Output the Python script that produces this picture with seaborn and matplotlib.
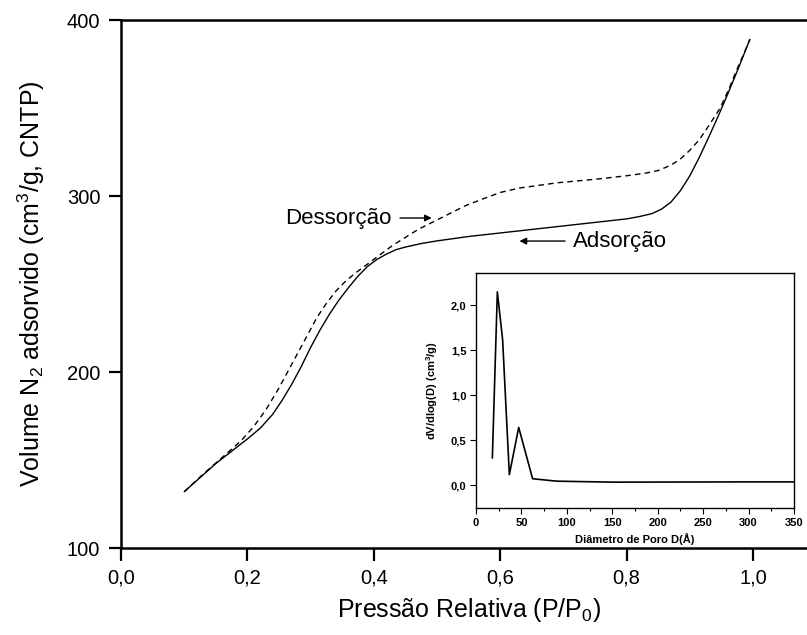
import matplotlib
matplotlib.use("Agg")
import matplotlib.pyplot as plt
import seaborn as sns
import pandas as pd
from matplotlib.ticker import MultipleLocator, FuncFormatter

# --- data ---
ads_p = [0.10, 0.125, 0.15, 0.175, 0.20, 0.22, 0.24, 0.255, 0.27, 0.285, 0.30,
         0.315, 0.33, 0.345, 0.36, 0.375, 0.39, 0.405, 0.42, 0.435, 0.45, 0.475,
         0.50, 0.55, 0.60, 0.65, 0.70, 0.75, 0.80, 0.82, 0.84, 0.855, 0.87,
         0.885, 0.90, 0.915, 0.93, 0.945, 0.96, 0.975, 0.985, 0.995]
ads_v = [132, 140, 148, 155, 162, 168, 176, 184, 193, 203, 214,
         224, 233, 241, 248, 254.5, 260, 264, 267, 269.5, 271, 273,
         274.5, 277, 279, 281, 283, 285, 287, 288.3, 290, 292.5, 296.5,
         303, 311.5, 322, 333.5, 345.5, 358, 371, 380, 389]

des_p = [0.10, 0.13, 0.165, 0.19, 0.21, 0.23, 0.25, 0.265, 0.28, 0.295, 0.31,
         0.325, 0.34, 0.355, 0.37, 0.385, 0.40, 0.415, 0.43, 0.45, 0.47, 0.495,
         0.52, 0.545, 0.57, 0.60, 0.63, 0.66, 0.69, 0.72, 0.75, 0.80, 0.83,
         0.85, 0.87, 0.885, 0.90, 0.915, 0.93, 0.948, 0.962, 0.974, 0.985, 0.995]
des_v = [132, 142, 153, 161, 169, 179, 191, 201, 211, 221, 231,
         239, 246, 251.5, 256, 260, 264, 268, 272, 276.5, 281, 285.5,
         290, 294.5, 298, 302, 304.5, 306, 307.5, 308.5, 309.5, 311.5, 313,
         314.5, 317.5, 321, 326, 332, 340, 350, 361, 371.5, 380.5, 389]

pore_d = [18, 23.5, 29.3, 36.7, 47, 62.3, 88.7, 151, 300, 350]
pore_dv = [0.305, 2.15, 1.62, 0.12, 0.645, 0.075, 0.048, 0.037, 0.04, 0.04]

x_ticks = [0.0, 0.2, 0.4, 0.6, 0.8, 1.0]
y_ticks = [100, 200, 300, 400]
inset_x_ticks = [0, 50, 100, 150, 200, 250, 300, 350]
inset_y_ticks = [0.0, 0.5, 1.0, 1.5, 2.0]

sns.set_style("ticks")
plt.rcParams['font.family'] = ['Liberation Sans', 'DejaVu Sans']
plt.rcParams['mathtext.fontset'] = 'custom'
plt.rcParams['mathtext.rm'] = 'Liberation Sans'
plt.rcParams['mathtext.bf'] = 'Liberation Sans:bold'
for k in ['text.color', 'axes.labelcolor', 'xtick.color', 'ytick.color',
          'axes.edgecolor']:
    plt.rcParams[k] = 'black'

comma = FuncFormatter(lambda v, p: f"{v:.1f}".replace(".", ","))

fig = plt.figure(figsize=(8.07, 6.35), dpi=100)
ax = fig.add_axes([0.150, 0.137, 1.1 * 632 / 807, 0.8315])

ads = pd.DataFrame({"P": ads_p, "V": ads_v})
des = pd.DataFrame({"P": des_p, "V": des_v})
sns.lineplot(data=ads, x="P", y="V", ax=ax, color="black", lw=1.0, sort=False)
sns.lineplot(data=des, x="P", y="V", ax=ax, color="black", lw=1.0, sort=False,
             linestyle=(0, (4, 3)))

ax.set_xlim(0, 1.1)
ax.set_ylim(100, 400)
ax.set_xticks(x_ticks)
ax.set_yticks(y_ticks)
ax.xaxis.set_major_formatter(comma)
for s in ax.spines.values():
    s.set_linewidth(1.8)
ax.tick_params(direction="out", length=9, width=1.6, labelsize=14.5, pad=6)
ax.set_xlabel("Pressão Relativa (P/P$_0$)", fontsize=18, labelpad=6)
ax.set_ylabel("Volume N$_2$ adsorvido (cm$^3$/g, CNTP)", fontsize=18, labelpad=14)

ax.text(0.259, 287.5, "Dessorção", fontsize=16, va="center", ha="left")
ax.annotate("", xy=(0.496, 287.5), xytext=(0.437, 287.5),
            arrowprops=dict(arrowstyle="-|>", color="black", lw=1.0,
                            mutation_scale=10))
ax.text(0.715, 274.4, "Adsorção", fontsize=16, va="center", ha="left")
ax.annotate("", xy=(0.626, 274.4), xytext=(0.707, 274.4),
            arrowprops=dict(arrowstyle="-|>", color="black", lw=1.0,
                            mutation_scale=10))

# inset
ins = fig.add_axes([476 / 807, (635 - 508) / 635, 318 / 807, 235 / 635])
pdf = pd.DataFrame({"D": pore_d, "dV": pore_dv})
sns.lineplot(data=pdf, x="D", y="dV", ax=ins, color="black", lw=1.2, sort=False)
ins.set_xlim(0, 350)
ins.set_ylim(-0.25, 2.36)
ins.set_xticks(inset_x_ticks)
ins.set_yticks(inset_y_ticks)
ins.xaxis.set_minor_locator(MultipleLocator(25))
ins.yaxis.set_major_formatter(comma)
for s in ins.spines.values():
    s.set_linewidth(1.0)
ins.tick_params(which="major", direction="out", length=4, width=0.8,
                labelsize=8, pad=3)
ins.tick_params(which="minor", direction="out", length=2.5, width=0.8)
for lab in ins.get_xticklabels() + ins.get_yticklabels():
    lab.set_fontweight("bold")
ins.set_xlabel("Diâmetro de Poro D(Å)", fontsize=8, fontweight="bold", labelpad=4)
ins.set_ylabel("dV/dlog(D) (cm$^\\mathbf{3}$/g)", fontsize=8, fontweight="bold",
               labelpad=8)

fig.savefig("out.png", dpi=100)
